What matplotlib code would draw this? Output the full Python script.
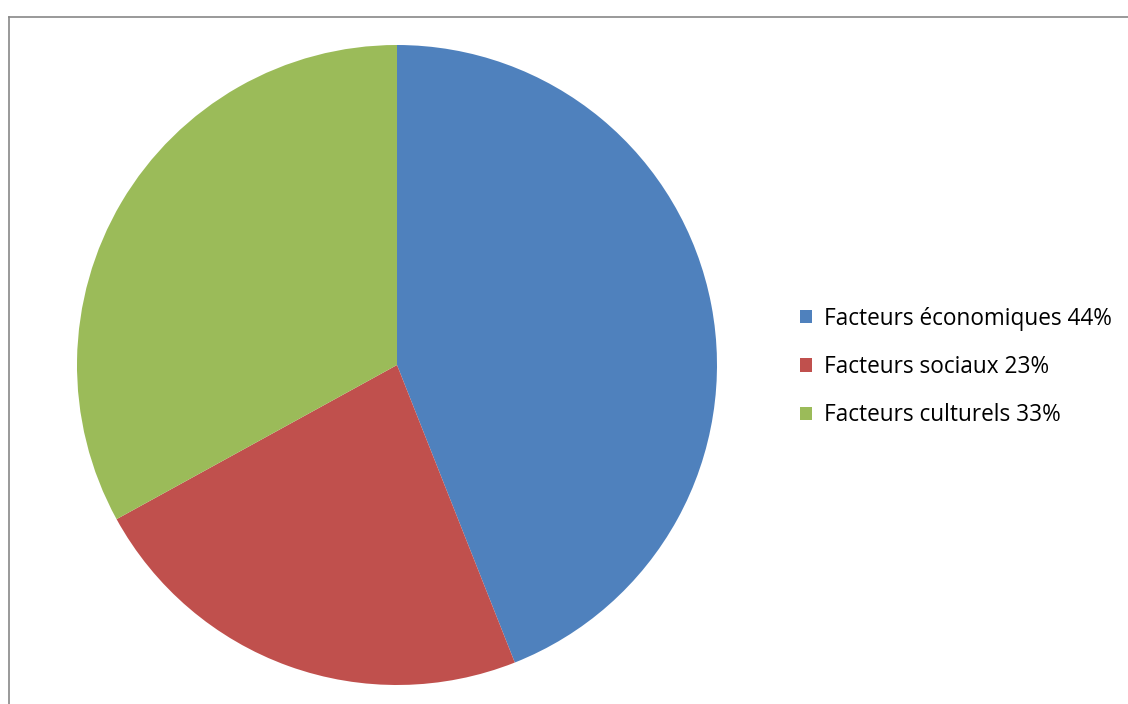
import matplotlib.pyplot as plt
from matplotlib.lines import Line2D

# Data
labels = ['Facteurs économiques 44%', 'Facteurs sociaux 23%', 'Facteurs culturels 33%']
values = [44, 23, 33]
colors = ['#4F81BD', '#C0504D', '#9BBB59']

W, H = 1128, 704
fig = plt.figure(figsize=(W / 100, H / 100), dpi=100)
plt.rcParams['font.family'] = ['Open Sans', 'DejaVu Sans']

# pie axes placed in pixel box (center 397,365 r=320)
ax = fig.add_axes([77 / W, 19 / H, 640 / W, 640 / H])
wedges, _ = ax.pie(values, colors=colors, startangle=90, counterclock=False,
                   radius=1.0, wedgeprops=dict(linewidth=0))
ax.set_xlim(-1, 1)
ax.set_ylim(-1, 1)
ax.set_aspect('equal')
ax.axis('off')

# legend
fig.legend(wedges, labels, loc='center left',
           bbox_to_anchor=(800 / W, (H - 367) / H),
           frameon=False, fontsize=16.3,
           handlelength=0.53, handleheight=0.53, handletextpad=0.53,
           labelspacing=1.08, borderaxespad=0, borderpad=0)

# chart area border (top and left edges visible)
border = dict(color='#888888', linewidth=1.2, transform=fig.transFigure)
fig.add_artist(Line2D([8.5 / W, 8.5 / W], [0, (H - 16.5) / H], **border))
fig.add_artist(Line2D([8.5 / W, 1], [(H - 16.5) / H, (H - 16.5) / H], **border))

fig.savefig('out.png', dpi=100, facecolor='white')
